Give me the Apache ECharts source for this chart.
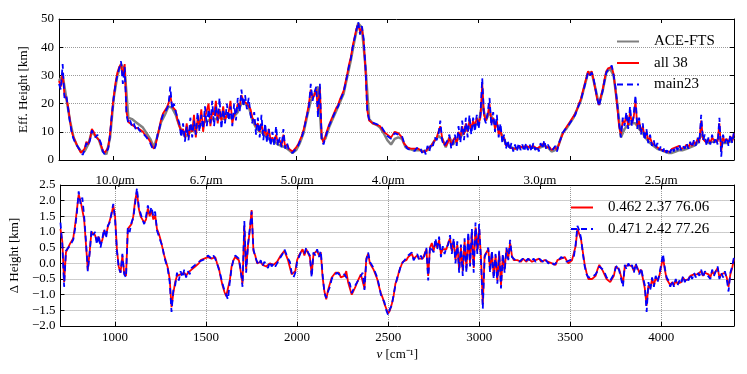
<!DOCTYPE html>
<html>
<head>
<meta charset="utf-8" />
<title>Eff. Height</title>
<script src="https://cdn.jsdelivr.net/npm/echarts@6/dist/echarts.min.js"></script>
<style>
	body { margin: 0; background: #fff; }
	#main { width: 747px; height: 374px; }
</style>
</head>
<body>
<div id="main"></div>
<script type="text/javascript">
// wavenumber grid: 700 .. 4400 cm-1
var NU_START = 700;

// top panel: effective height [km], sampled every 10 cm-1
var effMain23 = [
	27,25,34,22,23,18,13.5,9.5,7.5,6,
	5.5,4,3,1.8,3.5,6,5,7,10.5,11,
	8,9,7.5,6,3,2,1.5,4,9,16,
	22,27,30,32.5,35,27,33,16,13,14,
	12,13,11,12,10.5,11,9.5,9.5,8,7,
	6,4.5,3.5,5,9,11,14,16,16.5,18,
	19.5,26,18,20,17,15,13,8,13,6.5,
	12,7,15,8,14,9,17,10,16,11,
	19,12,18,13,21,12,19,14,22,11,
	18,13,20,14,19,12,20,14,22,17,
	25,19,23,18,22,16,13,17,9,15,
	8,16,7,13,6,11,5,10,5,12,
	5,8,4.5,11,4,6,3.5,3,2.5,3,
	4,5,6.5,8,10,13,16,19,27,21,
	24,26,15,27,7,5.5,8,10,12,13.5,
	15,16.5,18,19,21,22.5,24,27,30,33.5,
	36,40,43,46,49,44.5,47.5,43,33,17,
	14.5,13.5,13,13,12.5,12.5,12,11.5,10.5,9.5,
	8.5,8,7.5,8.5,9.5,10,9,9.5,8.5,6.5,
	5,4,4.5,3.5,4,3.2,4.2,3.5,4.5,2.5,
	4,2,5,3,6,5,8,7,9,14,
	7,5,4.5,7,9,4,6,9,5,12,
	6,14,7,15,8,16,9,15,10,16,
	11,16,29,15,13,17,22,12,17,10,
	16,8,13,6,9,4,7,3.5,6,3,
	5.5,3,6,3.5,5.5,3,6,3.5,5.5,3,
	6,3.5,5,3,6,4,7,4,5.5,4,
	3,2.5,5,3,6,7.5,9.5,10.5,11,12,
	13,14,15,16,18,19.5,21,23.5,26,28.5,
	31,30,31,29,25.5,22,19,22,24.5,28,
	31,32,32.5,33.5,30,26,20,13,8,15,
	12,17,11,19,12,16,23,11,15,9,
	13,7,11,6,9,5,7,4,6,3.5,
	5,3,4.5,2.5,4,2.5,4.5,3,5,3.5,
	5.5,3.5,5,4,6,4,6.5,4.5,7,5,
	8,6,16,7,9,5,8,5.5,9,6,
	8,5.5,15,1.2,9,6,8,5,9,6,
	10
];

var effAll38 = [
	28,26,31,23,22,19,14,10,8,6.5,
	5,4.5,2.5,2,4,6.5,5.5,7.5,11,10,
	8.5,8.5,7,6.5,3.5,2.5,2,4.5,9.5,16.5,
	22.5,27.5,31,33,34,30,34,17,13.5,13,
	12.5,12,11.5,11,11,10.5,10,9,8.5,7.5,
	6.5,5,4,5.5,8.5,11.5,14.5,16.5,17,18.5,
	20,23,19,19,17.5,14,14,10,11,8,
	13,8,12,10,16,8,15,12,18,10,
	15,15,20,12,17,16,21,13,18,14,
	19,14,16,17,21,13,16,17,20,19,
	23,21,21,20,19,18,15,14,12,13,
	10,13,9,11,8,11,7,8,6.5,9,
	6,7,5,9,4.5,5.5,4,3.5,3,3.5,
	4.5,5.5,7,8.5,10.5,13.5,16.5,20,25,22,
	23,25,17,26,8,6,8.5,10.5,12.5,14,
	15.5,17,18.5,19.5,21.5,23,24.5,27.5,30.5,34,
	36.5,40.5,43.5,46.5,48,45.5,47,42,32,17.5,
	14,13.5,13,12.5,12.5,12,12,11,10,9.5,
	9,8.5,8,9,10,9.5,9.5,9,8,6,
	5.5,4.5,4,4,3.5,4,3.5,4,4,3,
	3.5,3,4,4,5,6,7,8,10,12,
	8,6,5,6,8,5,7,8,6,10,
	8,12,9,13,10,14,11,14,12,15,
	13,15,27,16,14,16,20,13,15,11,
	14,9,11,7,8,5,6,4.5,5,4,
	4.5,4,5,4.5,4.5,4,5,4.5,4.5,4,
	5,4.5,4,4,5,5,6,4.5,5,4.5,
	3.5,3,4.5,3.5,5.5,7.5,9,10.5,11.5,12,
	13.5,14,15.5,16.5,18,20,21.5,24,26.5,29,
	31.5,30,31.5,28.5,25,21.5,19.5,22.5,25,28.5,
	31.5,32.5,33,33,30.5,25,19,12,9,14,
	13,16,12,17,13,15,21,12,14,10,
	12,8,10,7,8,6,6.5,5,5.5,4,
	4.5,3.5,4,3,3.5,3,4,3.5,4.5,4,
	5,4,4.5,4.5,5.5,4.5,6,5,6.5,5.5,
	7.5,6.5,14,7.5,8,6,7.5,6,8,7,
	7.5,6.5,13,3,8,6.5,7.5,6,8.5,6.5,
	9.5
];

// ACE-FTS reference, sampled every 20 cm-1
var effAce = [
	28,30,22,14,8,
	5,3,3,5.5,10,
	8.5,7,3,2,8,
	22,30,34,32,15,
	14.5,13.5,12.5,11.5,9.5,
	7.5,4.5,8.5,13.5,16,
	19,18.5,16,12,9.5,
	8.5,10,10.5,12,12.5,
	13.5,14,14.5,14.5,15,
	14.5,15.5,15,15.5,17,
	20,20,19,14,11.5,
	10,9.5,8,7,6.5,
	5.5,5,4.5,3.5,2.5,
	3.5,6,9.5,15.5,21,
	23.5,26,7.5,7.5,11.5,
	14.5,17.5,20.5,23.5,29.5,
	35.5,42.5,48.5,47,33,
	14.5,13,12.5,11.5,9.5,
	7,5.5,7.5,8,7.5,
	4.5,4,3.5,3.5,3.5,
	3,3.5,5,7,8.5,
	7.5,4.5,8,5.5,7,
	8,10,11,12,12.5,
	13,20,14,17,14,
	12.5,10,7,5,4.5,
	4,4.5,4.5,4.5,4.5,
	4.5,4,4.5,5,4.5,
	3,3.5,5.5,9.5,11,
	13,15,18,21,26,
	31,31,25.5,19.5,24.5,
	31,32.5,30,20,8,
	11,12.5,13,13,11,
	9.5,7.5,6,5,4,
	3.5,3,2.5,2.5,3,
	3.5,3.5,4,4.5,5,
	6,9,7,6,6.5,
	6.5,8,6,6,6.5,
	8
];

// bottom panel: height difference [km], sampled every 10 cm-1
var dMain23 = [
	1.3,0.6,-0.75,0.4,0.35,0.55,0.65,0.75,1.1,1.6,
	2.3,1.9,2.1,1.5,0.7,-0.25,0.3,1.05,0.9,1.0,
	0.6,0.9,0.5,0.8,1.1,0.8,1.2,1.3,1.6,1.9,
	1.4,0.4,-0.15,-0.3,0.3,-0.35,-0.45,1.15,1.0,1.3,
	1.45,1.9,2.4,1.8,1.6,1.4,1.25,1.5,1.85,1.6,
	1.8,1.5,1.65,1.05,1.0,0.7,0.55,0.2,0.0,-0.2,
	-0.6,-1.55,-0.85,-0.7,-0.3,-0.55,-0.25,-0.45,-0.2,-0.45,
	-0.25,-0.35,-0.15,-0.2,-0.05,-0.1,0.05,0.05,0.1,0.15,
	0.15,0.25,0.2,0.15,0.25,0.15,0.0,-0.2,-0.4,-0.65,
	-0.85,-1.0,-1.15,-0.6,-0.15,0.1,0.25,0.2,0.15,-0.2,
	-0.75,1.35,-0.3,0.6,1.1,1.65,0.45,0.2,0.05,-0.05,
	0.1,-0.1,0.05,-0.05,-0.15,0.05,-0.1,0.0,-0.1,0.0,
	0.1,0.2,0.3,0.45,0.3,0.15,0.05,-0.3,-0.45,-0.3,
	0.05,0.2,0.35,0.4,0.3,0.5,0.35,0.25,-0.45,0.35,
	0.25,0.45,0.2,0.4,-0.35,-0.95,-1.1,-0.9,-0.75,-0.5,
	-0.4,-0.35,-0.3,-0.35,-0.4,-0.45,-0.35,-0.3,-0.55,-0.65,
	-0.95,-1.0,-0.7,-0.65,-0.5,-0.4,-0.3,-0.85,0.1,0.35,
	0.05,-0.05,-0.15,-0.3,-0.45,-0.7,-1.0,-1.05,-1.25,-1.5,
	-1.65,-1.45,-1.35,-1.0,-0.7,-0.45,-0.3,-0.05,0.0,0.1,
	0.05,0.25,0.2,0.35,0.1,0.15,0.3,0.1,0.25,0.1,
	0.25,0.5,-0.55,0.55,0.6,0.35,0.8,0.45,0.85,0.2,
	0.55,0.3,0.5,0.6,0.9,0.3,0.8,0.0,0.7,-0.3,
	0.6,-0.4,0.8,-0.3,1.0,-0.1,1.1,-0.3,1.3,0.3,
	1.25,0.1,-1.45,0.2,0.35,0.5,-0.3,0.4,-0.5,0.3,
	-0.65,0.4,-0.8,0.3,-0.3,0.5,0.1,0.75,0.2,0.15,
	0.1,0.15,0.05,0.1,0.15,0.05,0.1,0.15,0.05,0.1,
	0.15,0.05,0.1,0.15,0.1,0.05,0.15,0.1,0.0,0.05,
	0.05,-0.05,0.0,0.05,0.1,0.2,0.25,0.15,0.05,0.05,
	0.1,0.05,0.2,0.6,1.2,1.05,0.8,0.3,-0.1,-0.35,
	-0.45,-0.5,-0.45,-0.5,-0.35,-0.25,-0.1,-0.05,-0.2,-0.3,
	-0.45,-0.5,-0.55,-0.6,-0.35,-0.15,-0.05,-0.25,-0.2,-0.75,
	-0.05,-0.2,0.0,-0.15,-0.05,-0.3,0.0,-0.2,-0.35,-0.15,
	-0.45,-0.7,-1.55,-0.6,-0.85,-0.45,-0.75,-0.4,-0.6,-0.35,
	-0.4,0.3,-0.15,-0.45,-0.55,-0.75,-0.55,-0.75,-0.5,-0.7,
	-0.55,-0.65,-0.4,-0.6,-0.45,-0.55,-0.35,-0.5,-0.3,-0.45,
	-0.3,-0.4,-0.2,-0.45,-0.25,-0.35,-0.3,-0.5,-0.2,-0.4,
	-0.25,-0.1,-0.5,-0.3,-0.45,-0.25,-0.5,-0.9,-0.3,-0.1,
	0.2
];

var dAll38 = [
	1.1,0.7,-0.6,0.35,0.4,0.6,0.7,0.8,1.2,1.7,
	2.2,2.0,1.95,1.4,0.6,-0.2,0.35,1.0,0.95,0.9,
	0.7,0.85,0.6,0.75,1.05,0.9,1.15,1.35,1.55,1.85,
	1.5,0.45,-0.1,-0.3,0.25,-0.3,-0.4,1.1,1.05,1.25,
	1.5,2.0,2.3,1.75,1.5,1.45,1.3,1.4,1.75,1.5,
	1.7,1.4,1.55,1.1,0.95,0.75,0.5,0.25,0.05,-0.15,
	-0.5,-1.4,-0.95,-0.6,-0.4,-0.45,-0.35,-0.4,-0.3,-0.4,
	-0.3,-0.3,-0.2,-0.15,-0.1,-0.05,0.0,0.1,0.1,0.15,
	0.2,0.2,0.25,0.15,0.2,0.2,0.0,-0.15,-0.45,-0.7,
	-0.9,-1.05,-1.1,-0.55,-0.1,0.1,0.2,0.25,0.1,-0.25,
	-0.65,1.2,-0.2,0.55,1.05,1.7,0.4,0.25,0.0,0.0,
	0.05,-0.05,0.0,-0.1,-0.1,0.0,-0.05,-0.05,-0.05,0.05,
	0.05,0.25,0.25,0.4,0.35,0.1,0.1,-0.35,-0.4,-0.25,
	0.1,0.25,0.3,0.45,0.25,0.45,0.4,0.2,-0.35,0.3,
	0.3,0.4,0.25,0.35,-0.45,-0.9,-1.15,-0.85,-0.8,-0.45,
	-0.45,-0.3,-0.35,-0.3,-0.45,-0.4,-0.4,-0.25,-0.6,-0.6,
	-1.0,-0.95,-0.75,-0.6,-0.55,-0.35,-0.35,-0.8,0.15,0.3,
	0.0,-0.1,-0.2,-0.25,-0.5,-0.75,-0.95,-1.1,-1.3,-1.45,
	-1.6,-1.5,-1.3,-1.05,-0.65,-0.5,-0.25,-0.1,0.05,0.05,
	0.1,0.2,0.25,0.3,0.15,0.2,0.25,0.15,0.2,0.15,
	0.2,0.45,-0.4,0.5,0.65,0.4,0.7,0.5,0.75,0.3,
	0.45,0.4,0.45,0.65,0.8,0.4,0.7,0.1,0.6,-0.2,
	0.5,-0.25,0.7,-0.15,0.85,0.0,1.0,-0.15,1.15,0.4,
	1.1,0.2,-1.3,0.25,0.3,0.45,-0.2,0.35,-0.4,0.25,
	-0.55,0.35,-0.7,0.25,-0.2,0.45,0.15,0.65,0.25,0.1,
	0.15,0.1,0.1,0.05,0.15,0.1,0.05,0.15,0.1,0.05,
	0.1,0.1,0.05,0.15,0.05,0.1,0.1,0.05,0.05,0.0,
	0.0,0.0,-0.05,0.1,0.05,0.15,0.2,0.2,0.1,0.0,
	0.05,0.1,0.15,0.55,1.1,1.1,0.75,0.35,-0.05,-0.3,
	-0.5,-0.45,-0.5,-0.45,-0.4,-0.2,-0.05,-0.1,-0.25,-0.25,
	-0.5,-0.45,-0.6,-0.55,-0.4,-0.1,-0.1,-0.2,-0.25,-0.65,
	-0.1,-0.15,-0.05,-0.1,-0.1,-0.25,-0.05,-0.15,-0.3,-0.2,
	-0.5,-0.8,-1.35,-0.7,-0.8,-0.5,-0.7,-0.45,-0.55,-0.4,
	-0.35,0.2,-0.2,-0.5,-0.6,-0.7,-0.6,-0.7,-0.55,-0.65,
	-0.6,-0.6,-0.45,-0.55,-0.5,-0.5,-0.4,-0.45,-0.35,-0.4,
	-0.35,-0.35,-0.25,-0.4,-0.3,-0.3,-0.35,-0.45,-0.25,-0.35,
	-0.3,-0.15,-0.45,-0.35,-0.4,-0.3,-0.45,-0.75,-0.35,-0.15,
	0.15
];

var nuTicks = [1000, 1500, 2000, 2500, 3000, 3500, 4000];
var umTicks = [1000, 1500, 2000, 2500, 10000 / 3, 4000];
var legendTop = ['ACE-FTS', 'all 38', 'main23'];
var legendBottom = ['0.462 2.37 76.06', '0.471 2.42 77.26'];

function pairs(vals, step) {
	var out = [];
	for (var i = 0; i < vals.length; i++) out.push([NU_START + i * step, vals[i]]);
	return out;
}

var FONT = 'Liberation Serif';
var frame = { show: true, onZero: false, lineStyle: { color: '#000', width: 1 } };
var grid = { show: true, type: 'dotted', color: '#9a9a9a', width: 1 };

function xax(gi, pos, labels) {
	return {
		type: 'value', gridIndex: gi, position: pos, min: 700, max: 4400,
		axisLine: frame,
		axisTick: { show: true, inside: true, length: 4, customValues: nuTicks, lineStyle: { color: '#000' } },
		axisLabel: {
			show: labels, customValues: nuTicks, margin: 5, color: '#000', fontFamily: FONT, fontSize: 13,
			formatter: function (v) { return String(v); }
		},
		splitLine: { show: false }
	};
}

var myChart = echarts.init(document.getElementById('main'));

var xBottom = xax(1, 'bottom', true);
xBottom.splitLine = { show: true, lineStyle: grid };
xBottom.name = '{i|ν} [cm⁻¹]';
xBottom.nameLocation = 'middle';
xBottom.nameGap = 22;
xBottom.nameTextStyle = {
	color: '#000', fontFamily: FONT, fontSize: 13,
	rich: { i: { fontStyle: 'italic', fontFamily: FONT, fontSize: 13, color: '#000' } }
};

var xMicron = xax(1, 'top', true);
xMicron.axisTick.customValues = umTicks;
xMicron.axisLabel = {
	show: true, customValues: umTicks, margin: -2, color: '#000',
	formatter: function (v) { return (10000 / v).toFixed(1) + '{i|μ}m'; },
	fontFamily: FONT, fontSize: 13,
	rich: { i: { fontStyle: 'italic', fontFamily: FONT, fontSize: 13, color: '#000' } }
};

function yax(gi, pos, min, max, step, labels, name, gap) {
	return {
		type: 'value', gridIndex: gi, position: pos, min: min, max: max, interval: step,
		axisLine: frame,
		axisTick: { show: true, inside: true, length: 4, lineStyle: { color: '#000' } },
		axisLabel: {
			show: labels, margin: 5, color: '#000', fontFamily: FONT, fontSize: 13,
			formatter: function (v) {
				var s = step < 1 ? Math.abs(v).toFixed(1) : String(Math.abs(v));
				return v < 0 ? '−' + s : s;
			}
		},
		splitLine: { show: labels, lineStyle: grid },
		name: name, nameLocation: 'middle', nameGap: gap,
		nameTextStyle: { color: '#000', fontFamily: FONT, fontSize: 13 }
	};
}

function line(name, data, xi, yi, color, width, dash) {
	return {
		name: name, type: 'line', xAxisIndex: xi, yAxisIndex: yi, data: data,
		symbol: 'none', showSymbol: false, animation: false, clip: true,
		lineStyle: { color: color, width: width, type: dash || 'solid' },
		itemStyle: { color: color }
	};
}

var legendText = { color: '#000', fontFamily: FONT, fontSize: 15, padding: [0, 0, 0, 10] };
var noMarker = { color: 'rgba(0,0,0,0)', borderWidth: 0, opacity: 0 };

option = {
	backgroundColor: '#fff',
	animation: false,
	grid: [
		{ left: 59, right: 13, top: 19, height: 141 },
		{ left: 59, right: 13, top: 185, height: 141 }
	],
	legend: [
		{ data: legendTop, orient: 'vertical', left: 611, top: 29, itemWidth: 22, itemHeight: 12, itemGap: 6.5, itemStyle: noMarker, textStyle: legendText },
		{ data: legendBottom, orient: 'vertical', left: 565, top: 195, itemWidth: 22, itemHeight: 12, itemGap: 6.5, itemStyle: noMarker, textStyle: legendText }
	],
	xAxis: [xax(0, 'bottom', false), xax(0, 'top', false), xBottom, xMicron],
	yAxis: [
		yax(0, 'left', 0, 50, 10, true, 'Eff. Height [km]', 18),
		yax(0, 'right', 0, 50, 10, false, '', 0),
		yax(1, 'left', -2, 2.5, 0.5, true, 'Δ Height [km]', 21),
		yax(1, 'right', -2, 2.5, 0.5, false, '', 0)
	],
	series: [
		line('ACE-FTS', pairs(effAce, 20), 0, 0, '#808080', 2.5),
		line('all 38', pairs(effAll38, 10), 0, 0, '#ff0000', 1.8),
		line('main23', pairs(effMain23, 10), 0, 0, '#0000ff', 1.8, [6, 4]),
		line('0.462 2.37 76.06', pairs(dAll38, 10), 2, 2, '#ff0000', 1.8),
		line('0.471 2.42 77.26', pairs(dMain23, 10), 2, 2, '#0000ff', 1.8, [6, 4])
	]
};

myChart.setOption(option);
</script>
</body>
</html>
